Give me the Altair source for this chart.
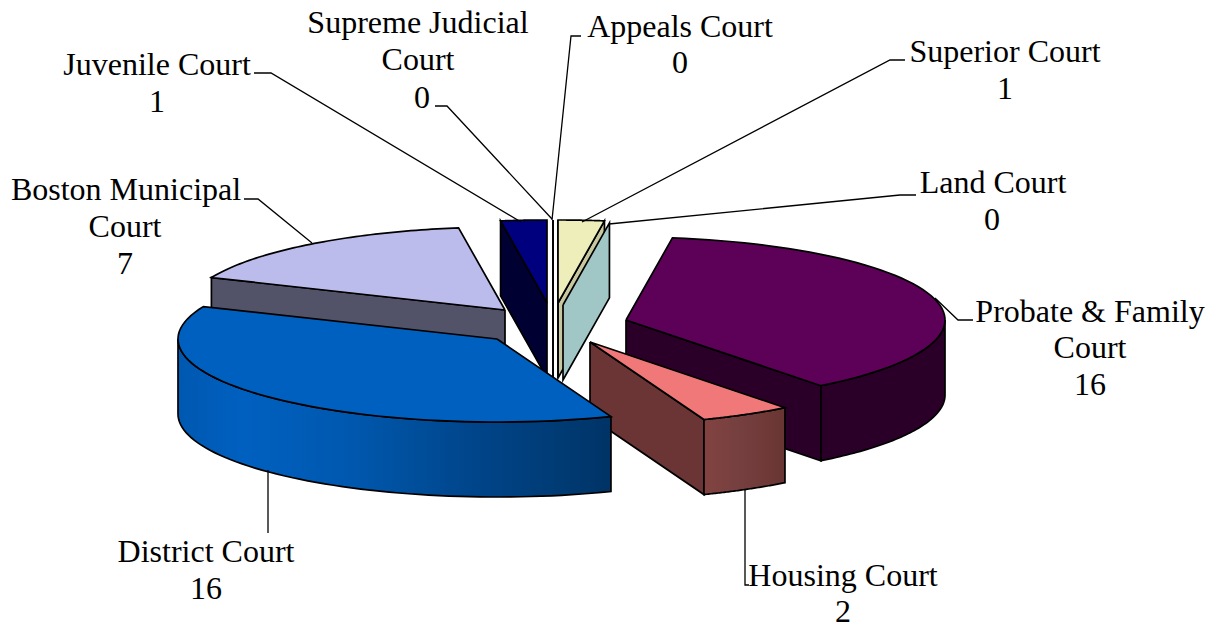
import math
import altair as alt
import pandas as pd

# ---- data (clockwise from the top of the pie) ----
categories = ["Superior Court", "Land Court", "Probate & Family Court", "Housing Court",
              "District Court", "Boston Municipal Court", "Juvenile Court",
              "Supreme Judicial Court", "Appeals Court"]
values = [1, 0, 16, 2, 16, 7, 1, 0, 0]

# ---- styling / projection of the exploded 3-D pie ----
RX, RY, DEPTH = 319, 83, 75
apex = {"Superior Court": (558, 303), "Land Court": (563, 305),
        "Probate & Family Court": (626, 320), "Housing Court": (590, 342),
        "District Court": (497, 339), "Boston Municipal Court": (505, 310),
        "Juvenile Court": (547, 303), "Supreme Judicial Court": (553, 303),
        "Appeals Court": (553, 303)}
top_col = {"Superior Court": "#eeeebb", "Land Court": "#a0c6c6",
           "Probate & Family Court": "#5c0058", "Housing Court": "#f07878",
           "District Court": "#0060c0", "Boston Municipal Court": "#bcbcec",
           "Juvenile Court": "#00007f", "Supreme Judicial Court": "#ffffff",
           "Appeals Court": "#ffffff"}
side_col = {"Superior Court": "#c8c8a0", "Land Court": "#a0c6c6",
            "Probate & Family Court": "#2a0028", "Housing Court": "#6b3535",
            "District Court": "#003a70", "Boston Municipal Court": "#525268",
            "Juvenile Court": "#000033", "Supreme Judicial Court": "#ffffff",
            "Appeals Court": "#ffffff"}

per_unit = 360.0 / sum(values)
spans = {}
a0 = 0.0
for c, v in zip(categories, values):
    spans[c] = (a0, a0 + v * per_unit)
    a0 += v * per_unit
spans["Supreme Judicial Court"] = (0.0, 0.0)
spans["Appeals Court"] = (0.0, 0.0)


def pt(c, phi, drop=0):
    ax, ay = apex[c]
    r = math.radians(phi)
    return (ax + RX * math.sin(r), ay - RY * math.cos(r) + drop)


def arc(c, a, b, drop=0, n=60):
    return [pt(c, a + (b - a) * i / n, drop) for i in range(n + 1)]


def face(c, phi):
    ax, ay = apex[c]
    return [(ax, ay), pt(c, phi), pt(c, phi, DEPTH), (ax, ay + DEPTH), (ax, ay)]


def wall(c, a, b):
    pts = arc(c, a, b) + arc(c, b, a, DEPTH)
    return pts + [pts[0]]


def top(c):
    a, b = spans[c]
    ax, ay = apex[c]
    return [(ax, ay)] + arc(c, a, b) + [(ax, ay)]


def grad(stops):
    return alt.Gradient(gradient="linear", x1=0, x2=1, y1=0, y2=0,
                        stops=[alt.GradientStop(offset=o, color=k) for o, k in stops])


S, L, P, H, D, B, J, SJ, AP = categories

polys = [
    (face(J, spans[J][0]), side_col[J]), (top(J), top_col[J]),
    (face(SJ, 0), "#ffffff"), (face(AP, 0), "#ffffff"),
    (face(S, spans[S][1]), side_col[S]), (face(S, spans[S][0]), side_col[S]), (top(S), top_col[S]),
    (face(L, spans[L][0]), top_col[L]),
    (face(B, spans[B][0]), side_col[B]), (top(B), top_col[B]),
    (face(P, spans[P][1]), side_col[P]), (wall(P, 90, spans[P][1]), side_col[P]), (top(P), top_col[P]),
    (face(H, spans[H][1]), side_col[H]),
    (wall(H, spans[H][0], spans[H][1]), grad([(0, "#824340"), (0.4, "#764040"), (1, "#693532")])),
    (top(H), top_col[H]),
    (wall(D, spans[D][0], 270),
     grad([(0, "#0058b0"), (0.15, "#0060c0"), (0.4, "#0058ae"), (0.7, "#004488"), (0.9, "#003a72"), (1, "#003366")])),
    (top(D), top_col[D]),
]

X = alt.X("x:Q", scale=alt.Scale(domain=[8, 1208], nice=False, zero=False), axis=None)
Y = alt.Y("y:Q", scale=alt.Scale(domain=[624, 8], nice=False, zero=False), axis=None)

layers = []
for pts, fill in polys:
    df = pd.DataFrame({"x": [p[0] for p in pts], "y": [p[1] for p in pts], "o": range(len(pts))})
    layers.append(alt.Chart(df).mark_line(fill=fill, stroke="#000000", strokeWidth=1.7,
                                          strokeJoin="miter", fillOpacity=1)
                  .encode(x=X, y=Y, order="o:Q"))

# leader lines from each label to its slice
leaders = [
    [(254, 73), (271, 73), (521, 222)],
    [(435, 106), (447, 106), (552, 219)],
    [(581, 36), (571, 36), (552, 220)],
    [(905, 60), (890, 60), (582, 222)],
    [(916, 195), (900, 195), (609, 224)],
    [(973, 320), (958, 320), (935, 298)],
    [(749, 585), (745, 585), (745, 490)],
    [(268, 533), (268, 470)],
    [(244, 199), (258, 199), (312, 243)],
]
for pts in leaders:
    df = pd.DataFrame({"x": [p[0] for p in pts], "y": [p[1] for p in pts], "o": range(len(pts))})
    layers.append(alt.Chart(df).mark_line(stroke="#000000", strokeWidth=1.3)
                  .encode(x=X, y=Y, order="o:Q"))

label_text = ["Juvenile Court", "1", "Supreme Judicial", "Court", "0", "Appeals Court", "0",
              "Superior Court", "1", "Land Court", "0", "Boston Municipal", "Court", "7",
              "Probate & Family", "Court", "16", "Housing Court", "2", "District Court", "16"]
label_x = [157, 157, 418, 418, 422, 680, 680, 1005, 1005, 993, 992, 126, 125, 125,
           1090, 1090, 1090, 843, 843, 206, 206]
label_y = [75, 112, 33, 70, 108, 37, 73, 62, 99, 193, 230, 200, 237, 274,
           322, 358, 395, 586, 622, 562, 599]
labels = pd.DataFrame({"x": label_x, "y": label_y, "t": label_text})
layers.append(alt.Chart(labels).mark_text(font="Liberation Serif", fontSize=32, align="center",
                                          baseline="alphabetic", color="#000000")
              .encode(x=X, y=Y, text="t:N"))

chart = alt.layer(*layers).properties(
    width=1200, height=616, padding=0, autosize=alt.AutoSizeParams(type="none"),
    background="#ffffff"
).configure_view(stroke=None)

chart.save("out.html", embed_options={"renderer": "svg", "actions": False})
